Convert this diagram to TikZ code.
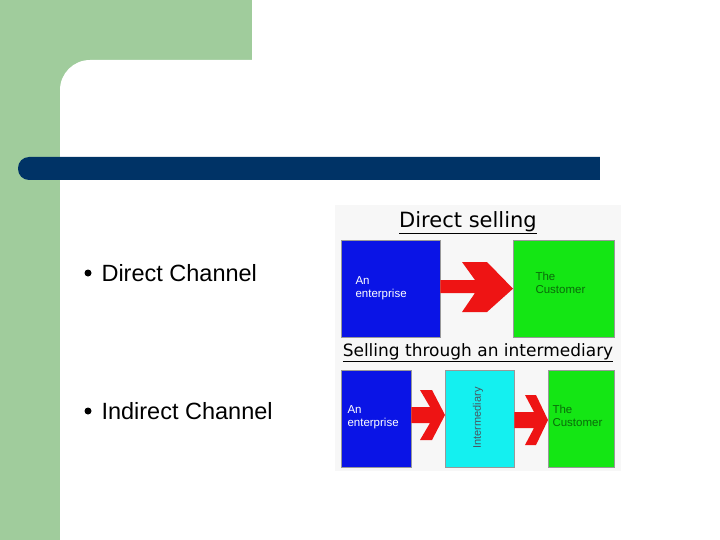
\documentclass[tikz,border=0pt]{standalone}
\usepackage{fontspec}
\setmainfont{Liberation Sans}
\newfontfamily\hand{DejaVu Sans}
\definecolor{sgreen}{HTML}{A0CC9C}
\definecolor{sblue}{HTML}{003366}
\definecolor{eblue}{HTML}{0A14E6}
\definecolor{cgreen}{HTML}{14E614}
\definecolor{cyanb}{HTML}{14F0F0}
\definecolor{redar}{HTML}{EE1414}
\definecolor{dgreen}{HTML}{0A6A0A}
\tikzset{
 bul/.style={font=\fontsize{23.5}{28}\selectfont, anchor=west},
 box/.style={draw=black!40, line width=0.4pt},
 lbl/.style={font=\fontsize{11.5}{13}\selectfont, align=left, anchor=west},
 ttl/.style={font=\hand\fontsize{17}{20}\selectfont},
 arr/.style={fill=redar, draw=none}
}
\begin{document}
\begin{tikzpicture}[x=1pt,y=-1pt]
\useasboundingbox (0,0) rectangle (720,540);
\fill[white] (0,0) rectangle (720,540);
\fill[sgreen] (0,0) rectangle (252,60);
\fill[sgreen] (0,0) rectangle (120,540);
\fill[white, rounded corners=30pt] (60,60) rectangle (800,600);
\fill[sblue, rounded corners=11pt] (18,157) rectangle (620,180);
\fill[sblue] (300,157) rectangle (600,180);
\fill[white] (600,150) rectangle (630,190);
% bullets
\fill (88,273) circle (3.5) coordinate (b1);
\fill (88,411) circle (3.5) coordinate (b2);
\node[bul] (t1) at (98,273) {Direct Channel};
\node[bul] (t2) at (98,411) {Indirect Channel};
% image
\fill[black!3] (335,205) rectangle (621,471);
\node[ttl, font=\hand\fontsize{21}{24}\selectfont] (d) at (468,223) {\underline{Direct selling}};
\node[box, fill=eblue, minimum width=99, minimum height=97, anchor=north west] (e1) at (341,240) {};
\node[box, fill=cgreen, minimum width=101, minimum height=97, anchor=north west] (c1) at (513,240) {};
\node[lbl, text=white] at (352,288) {An\\enterprise};
\node[lbl, text=dgreen] at (532,283) {The\\Customer};
\fill[arr] (e1.east |- 0,280) -- (475,280) -- (462,262) -- (487,262) -- (c1.west) -- (487,312) -- (462,312) -- (475,293) -- (e1.east |- 0,293) -- cycle;
\node[ttl] (s) at (478,353) {\underline{Selling through an intermediary}};
\node[box, fill=eblue, minimum width=70, minimum height=97, anchor=north west] (e2) at (341,370) {};
\node[box, fill=cyanb, minimum width=69, minimum height=97, anchor=north west] (i2) at (445,370) {};
\node[box, fill=cgreen, minimum width=66, minimum height=97, anchor=north west] (c2) at (548,370) {};
\node[lbl, text=white] at (344,417) {An\\enterprise};
\node[lbl, text=dgreen] at (549,416) {The\\Customer};
\node[font=\fontsize{11}{12}\selectfont, text=black!70!cyan, rotate=90] at (478,418) {Intermediary};
\fill[arr] (e2.east |- 0,407) -- (430,407) -- (420,390) -- (432,390) -- (i2.west |- 0,415) -- (432,440) -- (420,440) -- (430,423) -- (e2.east |- 0,423) -- cycle;
\fill[arr] (i2.east |- 0,412) -- (534,412) -- (525,395) -- (536,395) -- (c2.west |- 0,420) -- (536,445) -- (525,445) -- (534,428) -- (i2.east |- 0,428) -- cycle;
\end{tikzpicture}
\end{document}
